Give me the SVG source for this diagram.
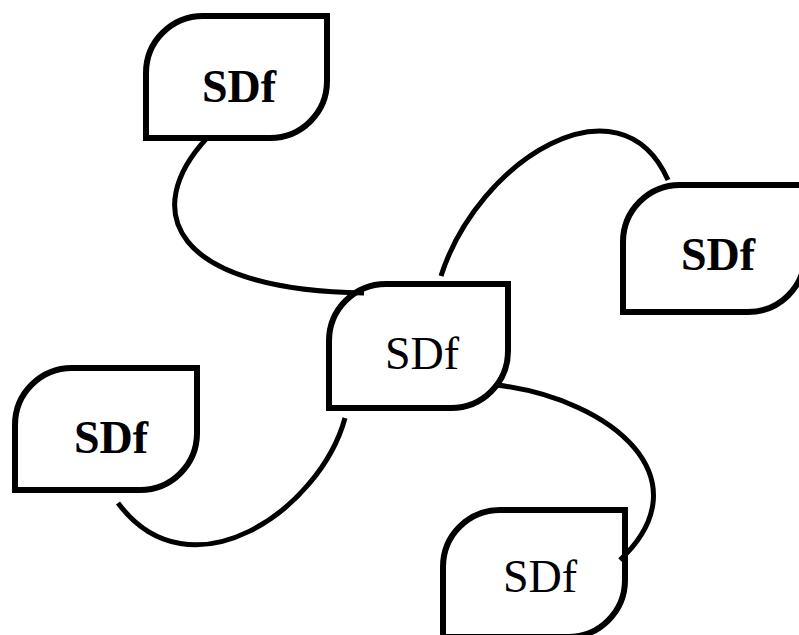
<svg xmlns="http://www.w3.org/2000/svg" width="799" height="635" viewBox="0 0 799 635">
  <style>
    .leaf { fill: #ffffff; stroke: #000000; stroke-width: 6; }
    .lbl { font-family: "Liberation Serif", "Times New Roman", serif; font-size: 46px; fill: #000000; text-anchor: middle; }
    .bold { font-weight: bold; }
    .link { fill: none; stroke: #000000; stroke-width: 5; }
  </style>
  <rect width="799" height="635" fill="#ffffff"/>

  <!-- leaf shaped nodes: rounded top-left and bottom-right corners -->
  <g id="node-top">
    <path class="leaf" d="M146,138 V73 A57,57 0 0 1 203,16 H327 V81 A57,57 0 0 1 270,138 Z"/>
    <text class="lbl bold" x="239" y="102">SDf</text>
  </g>
  <g id="node-center">
    <path class="leaf" d="M329,408 V341 A57,57 0 0 1 386,284 H508 V351 A57,57 0 0 1 451,408 Z"/>
    <text class="lbl" x="422" y="369">SDf</text>
  </g>
  <g id="node-right">
    <path class="leaf" d="M623,312 V242 A57,57 0 0 1 680,185 H805 V255 A57,57 0 0 1 748,312 Z"/>
    <text class="lbl bold" x="718" y="270">SDf</text>
  </g>
  <g id="node-left">
    <path class="leaf" d="M15,490 V425 A57,57 0 0 1 72,368 H197 V433 A57,57 0 0 1 140,490 Z"/>
    <text class="lbl bold" x="111" y="453">SDf</text>
  </g>
  <g id="node-bottom">
    <path class="leaf" d="M443,637 V567 A57,57 0 0 1 500,510 H625 V580 A57,57 0 0 1 568,637 Z"/>
    <text class="lbl" x="540" y="592">SDf</text>
  </g>

  <!-- curved connectors -->
  <g id="connectors">
    <path class="link" d="M207,138 C140,210 170,290 364,293"/>
    <path class="link" d="M441,276 C478,160 620,72 668,180"/>
    <path class="link" d="M497,385 C615,400 705,480 620,560"/>
    <path class="link" d="M345,418 C320,510 190,600 118,503"/>
  </g>
</svg>
